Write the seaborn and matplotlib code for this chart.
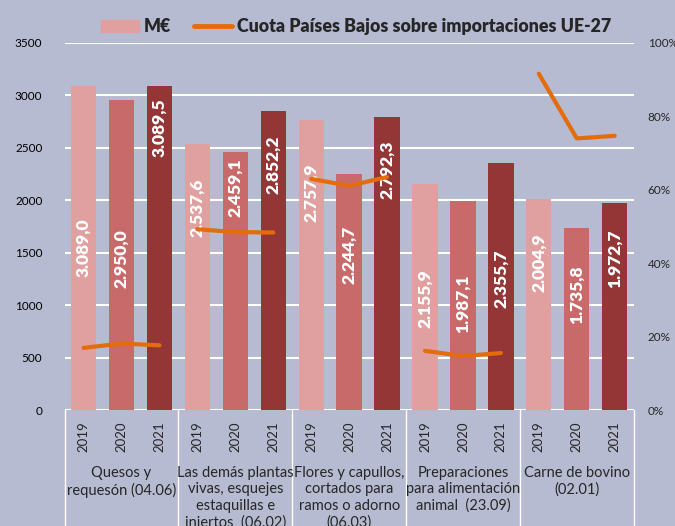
import matplotlib
matplotlib.use("Agg")
import matplotlib.pyplot as plt
import matplotlib.transforms as mtransforms
from matplotlib.patches import Patch
from matplotlib.lines import Line2D
import seaborn as sns
import pandas as pd
import numpy as np

# ---------------- data ----------------
categories = [
    "Quesos y\nrequesón (04.06)",
    "Las demás plantas\nvivas, esquejes\nestaquillas e\ninjertos  (06.02)",
    "Flores y capullos,\ncortados para\nramos o adorno\n(06.03)",
    "Preparaciones\npara alimentación\nanimal  (23.09)",
    "Carne de bovino\n(02.01)",
]
years = ["2019", "2020", "2021"]
meur_2019 = [3089.0, 2537.6, 2757.9, 2155.9, 2004.9]
meur_2020 = [2950.0, 2459.1, 2244.7, 1987.1, 1735.8]
meur_2021 = [3089.5, 2852.2, 2792.3, 2355.7, 1972.7]
share_2019 = [16.9, 49.2, 62.9, 16.1, 91.5]
share_2020 = [18.1, 48.4, 61.0, 14.7, 73.9]
share_2021 = [17.6, 48.3, 63.4, 15.5, 74.6]
left_ticks = [0, 500, 1000, 1500, 2000, 2500, 3000, 3500]
right_ticks = [0, 20, 40, 60, 80, 100]
legend_labels = ["M€", "Cuota Países Bajos sobre importaciones UE-27"]

# ---------------- layout / style ----------------
bg = "#b6bbd1"
bar_colors = ["#e0a0a0", "#c96a6a", "#943636"]
orange = "#e46c0a"
# vertical position of each value label, as a fraction of its bar height
label_frac = [[0.50, 0.49, 0.87], [0.76, 0.86, 0.82], [0.75, 0.66, 0.82],
              [0.49, 0.51, 0.53], [0.70, 0.63, 0.73]]

sns.set_style("white")
plt.rcParams["font.family"] = ["Lato", "DejaVu Sans"]

meur = [meur_2019, meur_2020, meur_2021]
share = [share_2019, share_2020, share_2021]
rows = []
for yi, y in enumerate(years):
    for ci, c in enumerate(categories):
        rows.append({"cat": c, "cat_idx": ci, "year": y, "year_idx": yi,
                     "val": meur[yi][ci], "share": share[yi][ci]})
df = pd.DataFrame(rows)
df["xpos"] = df["cat_idx"] + (df["year_idx"] - 1) / 3.0


def fmt_es(v):
    s = f"{v:,.1f}"
    return s.replace(",", "X").replace(".", ",").replace("X", ".")


fig = plt.figure(figsize=(6.75, 5.26), dpi=100, facecolor=bg)
ax = fig.add_axes([0.0957, 0.2205, 0.8431, 0.6987])
ax.set_facecolor(bg)

sns.barplot(data=df, x="cat", y="val", hue="year", order=categories,
            hue_order=years, palette=bar_colors, width=1.0, gap=1 / 3,
            saturation=1, legend=False, ax=ax, edgecolor="none")

for yi, cont in enumerate(ax.containers):
    for ci, bar in enumerate(cont):
        h = bar.get_height()
        ax.text(bar.get_x() + bar.get_width() / 2, h * label_frac[ci][yi],
                fmt_es(h), rotation=90, ha="center", va="center",
                color="white", fontweight="heavy", fontsize=12.5)

ax.set_ylim(0, 3500)
ax.set_yticks(left_ticks)
ax.set_yticklabels([str(t) for t in left_ticks], fontsize=8.5)
ax.yaxis.grid(True, color="white", lw=1.5)
ax.xaxis.grid(False)
ax.set_axisbelow(True)
for s in ax.spines.values():
    s.set_visible(False)
ax.tick_params(axis="y", length=0, pad=16, colors="black")

xt = sorted(df["xpos"].tolist())
ax.set_xticks(xt)
ax.set_xticklabels(years * len(categories), rotation=90, fontsize=9.5)
ax.tick_params(axis="x", length=0, pad=8)
ax.set_xlabel("")
ax.set_ylabel("")

trans = mtransforms.blended_transform_factory(ax.transData, ax.transAxes)
for ci, c in enumerate(categories):
    ax.text(ci, -0.152, c, transform=trans, ha="center", va="top",
            fontsize=10.5, linespacing=1.22)
for b in np.arange(-0.5, len(categories) + 0.5, 1.0):
    ax.plot([b, b], [0, -0.6], transform=trans, color="white", lw=1,
            clip_on=False)

ax2 = ax.twinx()
sns.lineplot(data=df, x="xpos", y="share", units="cat", estimator=None,
             color=orange, lw=3, ax=ax2, legend=False,
             solid_capstyle="round")
ax2.set_ylim(0, 100)
ax2.set_yticks(right_ticks)
ax2.set_yticklabels([f"{t}%" for t in right_ticks], fontsize=8.5)
ax2.tick_params(axis="y", length=0, pad=10)
ax2.set_ylabel("")
ax2.grid(False)
for s in ax2.spines.values():
    s.set_visible(False)
ax.set_xlim(-0.5, len(categories) - 0.5)

handles = [Patch(color=bar_colors[0]),
           Line2D([], [], color=orange, lw=3.5)]
fig.legend(handles, legend_labels, loc="center", bbox_to_anchor=(0.528, 0.949),
           ncol=2, frameon=False, prop={"weight": "heavy", "size": 12.8},
           handlelength=2.1, handletextpad=0.3, columnspacing=1.3)

fig.savefig("out.png", dpi=100, facecolor=bg)
